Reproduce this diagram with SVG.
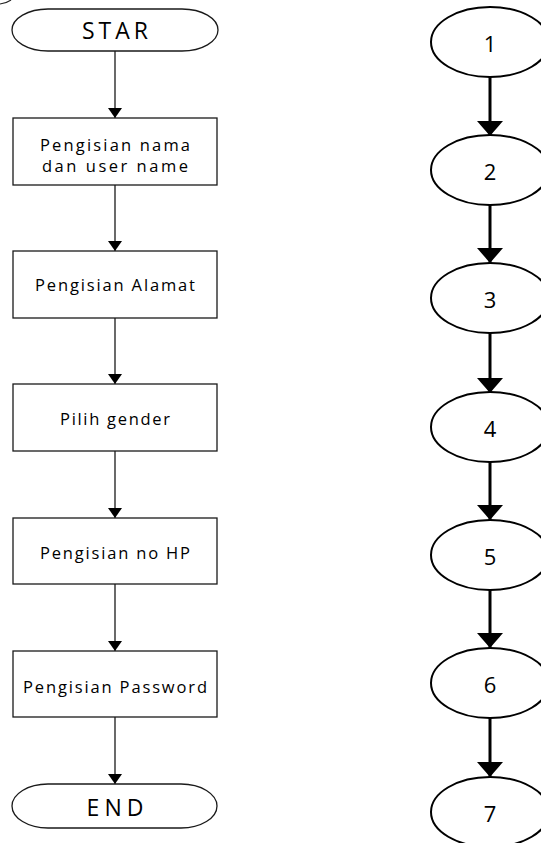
<svg xmlns="http://www.w3.org/2000/svg" width="541" height="843" viewBox="0 0 541 843">
  <style>
    .term { fill: #fff; stroke: #1a1a1a; stroke-width: 1.3; }
    .box { fill: #fff; stroke: #1a1a1a; stroke-width: 1.3; }
    .circ { fill: #fff; stroke: #000; stroke-width: 2; }
    .flow { stroke: #1a1a1a; stroke-width: 1.3; fill: none; }
    .thick { stroke: #000; stroke-width: 3; fill: none; }
    text { font-family: "Open Sans", "Liberation Sans", sans-serif; fill: #000; text-anchor: middle; dominant-baseline: central; }
    .t-term { font-size: 23px; }
    .t-box { font-size: 16.5px; }
    .t-num { font-size: 22px; }
  </style>
  <defs>
    <marker id="arrowSmall" markerUnits="userSpaceOnUse" markerWidth="10" markerHeight="14" refX="10" refY="7" orient="auto">
      <path d="M0,0 L10,7 L0,14 Z" fill="#000"/>
    </marker>
    <marker id="arrowBig" markerUnits="userSpaceOnUse" markerWidth="15" markerHeight="26" refX="15" refY="13" orient="auto">
      <path d="M0,0 L15,13 L0,26 Z" fill="#000"/>
    </marker>
  </defs>

  <rect width="541" height="843" fill="#fff"/>

  <!-- stray arc fragment at the corner -->
  <path d="M0,4 Q6,3.5 11,0" fill="none" stroke="#222" stroke-width="1.2"/>

  <!-- connectors -->
  <g id="connectors">
    <line class="flow" x1="115" y1="51" x2="115" y2="118" marker-end="url(#arrowSmall)"/>
    <line class="flow" x1="115" y1="185" x2="115" y2="251" marker-end="url(#arrowSmall)"/>
    <line class="flow" x1="115" y1="318" x2="115" y2="384" marker-end="url(#arrowSmall)"/>
    <line class="flow" x1="115" y1="451" x2="115" y2="518" marker-end="url(#arrowSmall)"/>
    <line class="flow" x1="115" y1="584" x2="115" y2="651" marker-end="url(#arrowSmall)"/>
    <line class="flow" x1="115" y1="717" x2="115" y2="784" marker-end="url(#arrowSmall)"/>

    <line class="thick" x1="490" y1="77" x2="490" y2="136" marker-end="url(#arrowBig)"/>
    <line class="thick" x1="490" y1="205" x2="490" y2="263" marker-end="url(#arrowBig)"/>
    <line class="thick" x1="490" y1="333" x2="490" y2="393" marker-end="url(#arrowBig)"/>
    <line class="thick" x1="490" y1="462" x2="490" y2="520" marker-end="url(#arrowBig)"/>
    <line class="thick" x1="490" y1="590" x2="490" y2="648" marker-end="url(#arrowBig)"/>
    <line class="thick" x1="490" y1="718" x2="490" y2="777" marker-end="url(#arrowBig)"/>
  </g>

  <!-- left flowchart -->
  <g id="start">
    <rect class="term" x="12" y="9" width="206" height="42" rx="36" ry="21"/>
    <text class="t-term" x="115" y="30" textLength="66" lengthAdjust="spacing">STAR</text>
  </g>
  <g id="step-nama">
    <rect class="box" x="13" y="118" width="204" height="67"/>
    <text class="t-box" x="115" y="144" textLength="150" lengthAdjust="spacing">Pengisian nama</text>
    <text class="t-box" x="115" y="165" textLength="146" lengthAdjust="spacing">dan user name</text>
  </g>
  <g id="step-alamat">
    <rect class="box" x="13" y="251" width="204" height="67"/>
    <text class="t-box" x="115" y="284" textLength="160" lengthAdjust="spacing">Pengisian Alamat</text>
  </g>
  <g id="step-gender">
    <rect class="box" x="13" y="384" width="204" height="67"/>
    <text class="t-box" x="115" y="418" textLength="110" lengthAdjust="spacing">Pilih gender</text>
  </g>
  <g id="step-hp">
    <rect class="box" x="13" y="518" width="204" height="66"/>
    <text class="t-box" x="115" y="552" textLength="150" lengthAdjust="spacing">Pengisian no HP</text>
  </g>
  <g id="step-password">
    <rect class="box" x="13" y="651" width="204" height="66"/>
    <text class="t-box" x="115" y="686" textLength="184" lengthAdjust="spacing">Pengisian Password</text>
  </g>
  <g id="end">
    <rect class="term" x="12" y="784" width="205" height="44" rx="36" ry="22"/>
    <text class="t-term" x="115" y="807" textLength="57" lengthAdjust="spacing">END</text>
  </g>

  <!-- right numbered chain -->
  <g id="n1"><ellipse class="circ" cx="490" cy="42" rx="59" ry="35"/><text class="t-num" x="490" y="43">1</text></g>
  <g id="n2"><ellipse class="circ" cx="490" cy="170" rx="59" ry="35"/><text class="t-num" x="490" y="171">2</text></g>
  <g id="n3"><ellipse class="circ" cx="490" cy="298" rx="59" ry="35"/><text class="t-num" x="490" y="299">3</text></g>
  <g id="n4"><ellipse class="circ" cx="490" cy="427" rx="59" ry="35"/><text class="t-num" x="490" y="428">4</text></g>
  <g id="n5"><ellipse class="circ" cx="490" cy="555" rx="59" ry="35"/><text class="t-num" x="490" y="556">5</text></g>
  <g id="n6"><ellipse class="circ" cx="490" cy="683" rx="59" ry="35"/><text class="t-num" x="490" y="684">6</text></g>
  <g id="n7"><ellipse class="circ" cx="490" cy="812" rx="59" ry="35"/><text class="t-num" x="490" y="813">7</text></g>
</svg>
